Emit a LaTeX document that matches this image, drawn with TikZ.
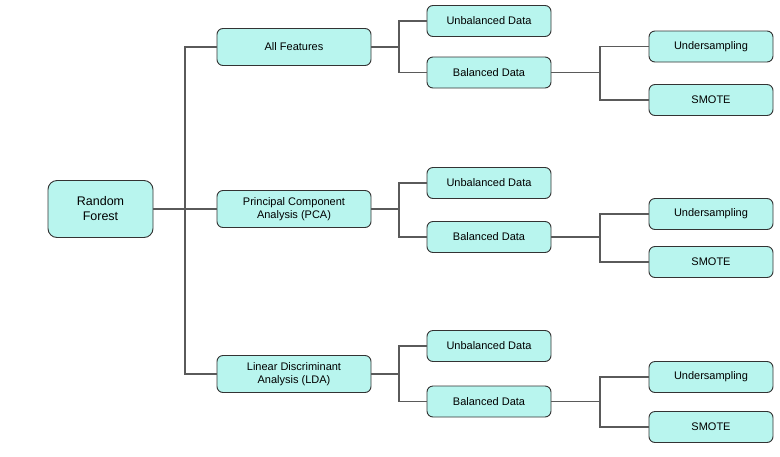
\documentclass[tikz,border=0pt]{standalone}
\usepackage{fontspec}
\setmainfont{Liberation Sans}
\definecolor{boxfill}{HTML}{B8F5EE}
\definecolor{boxline}{HTML}{333333}
\definecolor{linkgray}{HTML}{5A5A5A}
\tikzset{rootnode/.style={rectangle, rounded corners=9pt, draw=boxline, fill=boxfill, line width=0.9pt, minimum width=105pt, minimum height=57pt, align=center, font=\fontsize{12.5}{15}\selectfont}}
\tikzset{methodnode/.style={rectangle, rounded corners=6pt, draw=boxline, fill=boxfill, line width=0.9pt, minimum width=154pt, minimum height=37pt, align=center, font=\fontsize{11}{13}\selectfont}}
\tikzset{datanode/.style={rectangle, rounded corners=6pt, draw=boxline, fill=boxfill, line width=0.9pt, minimum width=124pt, minimum height=31pt, align=center, font=\fontsize{11}{13}\selectfont}}
\tikzset{link/.style={draw=linkgray, line width=1.5pt}}

\begin{document}
\begin{tikzpicture}[x=1pt, y=-1pt]
		\useasboundingbox (0,0) rectangle (780,456);

		%root
		\node[rootnode] (rf) at (100.5,209) {Random \\ Forest};

		%feature methods
		\node[methodnode] (af) at (294,47) {All Features};
		\node[methodnode] (pca) at (294,209) {Principal Component \\ Analysis (PCA)};
		\node[methodnode] (lda) at (294,374) {Linear Discriminant \\ Analysis (LDA)};

		%data nodes
		\node[datanode] (unb1) at (489,21) {Unbalanced Data};
		\node[datanode] (bal1) at (489,72.5) {Balanced Data};
		\node[datanode] (und1) at (711,46.5) {Undersampling};
		\node[datanode] (smo1) at (711,100) {SMOTE};

		\node[datanode] (unb2) at (489,183) {Unbalanced Data};
		\node[datanode] (bal2) at (489,237) {Balanced Data};
		\node[datanode] (und2) at (711,214) {Undersampling};
		\node[datanode] (smo2) at (711,262) {SMOTE};

		\node[datanode] (unb3) at (489,346) {Unbalanced Data};
		\node[datanode] (bal3) at (489,401.5) {Balanced Data};
		\node[datanode] (und3) at (711,377) {Undersampling};
		\node[datanode] (smo3) at (711,427) {SMOTE};

		%junctions
		\coordinate (jrf) at (185,209);
		\coordinate (jaf) at (399,47);
		\coordinate (jpca) at (399,209);
		\coordinate (jlda) at (399,374);
		\coordinate (jbal1) at (600,72.5);
		\coordinate (jbal2) at (600,237);
		\coordinate (jbal3) at (600,401.5);

		%connectors
		\path[link] (rf.east) -- (jrf) -- (pca.west);
		\path[link] (af.west) -| (jrf) |- (lda.west);

		\path[link] (af.east) -- (jaf);
		\path[link] (unb1.west) -| (jaf) |- (bal1.west);
		\path[link] (pca.east) -- (jpca);
		\path[link] (unb2.west) -| (jpca) |- (bal2.west);
		\path[link] (lda.east) -- (jlda);
		\path[link] (unb3.west) -| (jlda) |- (bal3.west);

		\path[link] (bal1.east) -- (jbal1);
		\path[link] (und1.west) -| (jbal1) |- (smo1.west);
		\path[link] (bal2.east) -- (jbal2);
		\path[link] (und2.west) -| (jbal2) |- (smo2.west);
		\path[link] (bal3.east) -- (jbal3);
		\path[link] (und3.west) -| (jbal3) |- (smo3.west);

	\end{tikzpicture}
\end{document}
